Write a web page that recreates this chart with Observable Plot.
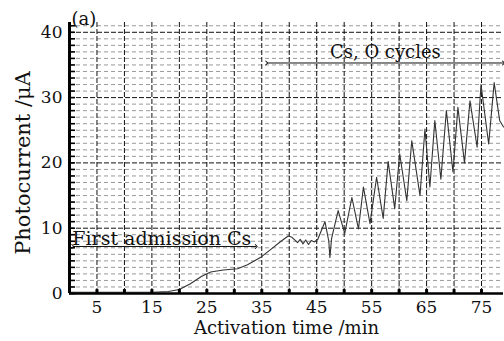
<!DOCTYPE html>
<html>
<head>
<meta charset="utf-8">
<script src="https://cdn.jsdelivr.net/npm/d3@7"></script>
<script src="https://cdn.jsdelivr.net/npm/@observablehq/plot@0.6"></script>
<style>
  html, body { margin: 0; padding: 0; background: #fff; }
</style>
</head>
<body>
<div id="chart"></div>
<script>
// Activation time (min)
const times = [0, 5, 10, 15, 18, 20, 22, 24, 25.7, 28, 30.6, 32.4, 34.9, 36.7, 38.5, 39.8, 40.5,
  41, 41.5, 42, 42.5, 43, 43.5, 44, 44.6, 45.2, 46.5, 47.2, 47.4, 47.7, 48.9,
  50.1, 51.4, 52.6, 53.5, 54.7, 55.9, 57.1, 58.0, 59.2, 60.1, 61.4, 62.3, 63.8, 64.7,
  65.6, 66.5, 67.6, 68.6, 69.8, 70.7, 71.9, 72.9, 74.2, 74.9, 76.3, 77.3, 78.3, 79];
// Photocurrent (µA)
const currents = [0.2, 0.2, 0.2, 0.2, 0.3, 0.6, 1.5, 2.6, 3.3, 3.6, 3.8, 4.4, 5.6, 6.8, 8.0, 8.8, 8.6,
  8.2, 7.8, 8.3, 7.6, 8.2, 7.5, 8.1, 7.9, 8.3, 11.0, 8.0, 5.5, 8.4, 12.7,
  9.2, 14.7, 9.9, 16.3, 10.7, 17.8, 11.5, 20.2, 13.0, 21.4, 14.2, 23.4, 15.0, 25.2,
  16.3, 26.5, 17.5, 28.0, 18.6, 28.5, 20.0, 29.5, 22.4, 32.0, 22.9, 32.3, 26.5, 25.5];

const xTickLabels = [5, 15, 25, 35, 45, 55, 65, 75];
const xGrid = [5, 10, 15, 20, 25, 30, 35, 40, 45, 50, 55, 60, 65, 70, 75];
const yTickLabels = [0, 10, 20, 30, 40];
const yMinor = d3.range(1, 42, 1).filter(v => v % 10 !== 0);
const yMajor = [10, 20, 30, 40];
const yTicksAll = d3.range(0, 42, 1);

const annotations = [
  {label: "Cs, O cycles", x: 57.5, y: 37.0, x1: 35.9, x2: 79, size: 18},
  {label: "First admission Cs", x: 16.8, y: 8.3, x1: 0.6, x2: 34, size: 19}
];
const arrowY = [35.3, 7.2];

const data = times.map((t, i) => ({t, v: currents[i]}));
const font = "'DejaVu Serif', 'Liberation Serif', serif";

const chart = Plot.plot({
  width: 504,
  height: 341,
  marginLeft: 69,
  marginRight: 1,
  marginTop: 22,
  marginBottom: 48,
  style: {fontFamily: font, fontSize: "16px", color: "#111", background: "#fff"},
  x: {domain: [0, 79]},
  y: {domain: [0, 41.5]},
  marks: [
    Plot.ruleY(yMinor, {stroke: "#555", strokeWidth: 0.8, strokeDasharray: "4,3", strokeOpacity: 0.75}),
    Plot.ruleY(yMajor, {stroke: "#111", strokeWidth: 1, strokeDasharray: "5,2"}),
    Plot.ruleX(xGrid, {stroke: "#111", strokeWidth: 1, strokeDasharray: "5,2"}),
    Plot.line(data, {x: "t", y: "v", stroke: "#333", strokeWidth: 1.1}),
    Plot.ruleY(yTicksAll, {x1: 0, x2: 1.1, stroke: "#000", strokeWidth: 1.6}),
    Plot.ruleX(xGrid, {y1: 0, y2: 0.6, stroke: "#000", strokeWidth: 3}),
    Plot.ruleX([0], {stroke: "#000", strokeWidth: 3}),
    Plot.ruleY([0], {stroke: "#000", strokeWidth: 2.5}),
    Plot.axisX(xTickLabels, {tickSize: 0, tickPadding: 7, fontSize: 17, label: null}),
    Plot.axisY(yTickLabels, {tickSize: 0, tickPadding: 7, fontSize: 17, label: null}),
    Plot.text(["Activation time /min"], {frameAnchor: "bottom", lineAnchor: "middle", dy: 35, fontSize: 18, fill: "#111"}),
    Plot.text(["Photocurrent /μA"], {frameAnchor: "left", textAnchor: "middle", lineAnchor: "middle", rotate: -90, dx: -46, dy: 5, fontSize: 21, fill: "#111"}),
    Plot.text(["(a)"], {frameAnchor: "top-left", lineAnchor: "top", dx: 2, dy: -10, textAnchor: "start", fontSize: 18, fill: "#111"}),
    Plot.link(annotations, {x1: "x1", x2: "x2", y1: (d, i) => arrowY[i], y2: (d, i) => arrowY[i],
      stroke: "#111", strokeWidth: 1, markerStart: "arrow", markerEnd: "arrow"}),
    Plot.text(annotations, {x: "x", y: "y", text: "label", fontSize: d => d.size, fill: "#111"})
  ]
});
document.getElementById("chart").appendChild(chart);
</script>
</body>
</html>
